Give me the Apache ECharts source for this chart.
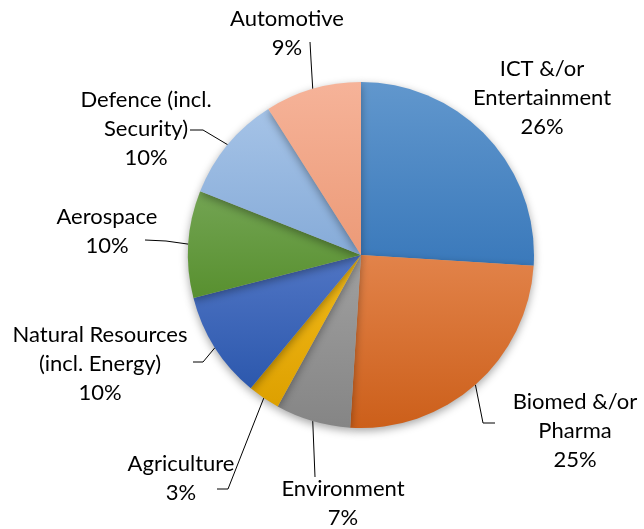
<!DOCTYPE html>
<html>
<head>
<meta charset="utf-8">
<script src="https://cdn.jsdelivr.net/npm/echarts@6/dist/echarts.min.js"></script>
<style>
html,body{margin:0;padding:0;background:#fff;}
#chart{width:644px;height:529px;}
</style>
</head>
<body>
<div id="chart"></div>
<script>
// ---- data ----
const categories = [
  'ICT &/or\nEntertainment',
  'Biomed &/or\nPharma',
  'Environment',
  'Agriculture',
  'Natural Resources\n(incl. Energy)',
  'Aerospace',
  'Defence (incl.\nSecurity)',
  'Automotive'
];
const values = [26, 25, 7, 3, 10, 10, 10, 9];

// ---- styles ----
const colorTop =    ['#6197cd', '#e2834a', '#a0a0a0', '#f3bb1a', '#5075c4', '#73a453', '#a5c3e7', '#f6b399'];
const colorBottom = ['#3a79bb', '#cc5f1a', '#858585', '#dda000', '#2c58ad', '#58902f', '#86abd8', '#ec9a77'];
// label block centres and leader line bends (layout only)
const labelPos = [
  [542, 98], [575, 431], [343, 503], [181, 478], [100, 364], [107, 231], [146, 129], [287, 33]
];
const leaderPts = [
  null,
  [[483, 423], [495, 423]],
  [[315, 477], [315, 477]],
  [[228, 489], [217, 489]],
  [[203, 362], [193, 362]],
  [[166, 241], [145, 240]],
  [[203, 130], [190, 130]],
  [[311, 60], [310, 42]]
];

const chart = echarts.init(document.getElementById('chart'), null, {renderer: 'canvas'});
const data = categories.map((c, i) => ({
  name: c,
  value: values[i],
  itemStyle: {
    color: new echarts.graphic.LinearGradient(0, 0, 0, 1, [
      {offset: 0, color: colorTop[i]},
      {offset: 1, color: colorBottom[i]}
    ])
  },
  labelLine: {show: leaderPts[i] !== null}
}));

chart.setOption({
  animation: false,
  backgroundColor: '#ffffff',
  series: [{
    type: 'pie',
    center: [361, 255],
    radius: 173,
    startAngle: 90,
    clockwise: true,
    percentPrecision: 0,
    avoidLabelOverlap: false,
    data: data,
    itemStyle: {
      borderWidth: 0,
      shadowBlur: 8,
      shadowOffsetX: 0,
      shadowOffsetY: 3,
      shadowColor: 'rgba(0,0,0,0.35)'
    },
    emphasis: {disabled: true},
    label: {
      show: true,
      position: 'outside',
      formatter: '{b}\n{d}%',
      fontFamily: 'Lato',
      fontSize: 22,
      lineHeight: 29,
      color: '#000000',
      align: 'center'
    },
    labelLine: {
      show: true,
      length: 10,
      length2: 10,
      lineStyle: {color: '#000000', width: 1}
    },
    labelLayout: function (params) {
      const i = params.dataIndex;
      const out = {
        x: labelPos[i][0],
        y: labelPos[i][1],
        align: 'center',
        verticalAlign: 'middle'
      };
      if (leaderPts[i] && params.labelLinePoints) {
        out.labelLinePoints = [params.labelLinePoints[0], leaderPts[i][0], leaderPts[i][1]];
      }
      return out;
    }
  }]
});
</script>
</body>
</html>
